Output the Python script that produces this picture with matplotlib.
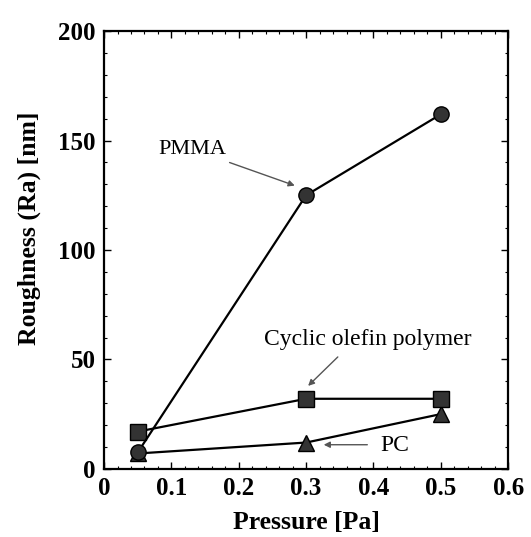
import matplotlib.pyplot as plt
from matplotlib.ticker import MultipleLocator

pressure = [0.05, 0.3, 0.5]
pmma = [7.5, 125, 162]
cop = [17, 32, 32]
pc = [7, 12, 25]

plt.rcParams['font.family'] = ['Liberation Serif', 'DejaVu Serif']

fig = plt.figure(figsize=(5.31, 5.37), dpi=100)
ax = fig.add_axes([0.196, 0.127, 0.761, 0.815])

ax.plot(pressure, pc, '-^', color='black', markersize=11, linewidth=1.6, markerfacecolor='#333333')
ax.plot(pressure, cop, '-s', color='black', markersize=11, linewidth=1.6, markerfacecolor='#333333')
ax.plot(pressure, pmma, '-o', color='black', markersize=11, linewidth=1.6, markerfacecolor='#333333')

ax.set_xlim(0, 0.6)
ax.set_ylim(0, 200)
ax.xaxis.set_major_locator(MultipleLocator(0.1))
ax.xaxis.set_minor_locator(MultipleLocator(0.02))
ax.yaxis.set_major_locator(MultipleLocator(50))
ax.yaxis.set_minor_locator(MultipleLocator(10))
ax.set_xticks([0, 0.1, 0.2, 0.3, 0.4, 0.5, 0.6])
ax.set_xticklabels(['0', '0.1', '0.2', '0.3', '0.4', '0.5', '0.6'])
ax.tick_params(which='both', direction='in', top=True, right=True)
ax.tick_params(which='major', length=5, width=1, labelsize=18, pad=6)
ax.tick_params(which='minor', length=2.5, width=0.8)
for lab in ax.get_xticklabels() + ax.get_yticklabels():
    lab.set_fontweight('bold')
for s in ax.spines.values():
    s.set_linewidth(1.6)

ax.set_xlabel('Pressure [Pa]', fontsize=18.5, fontweight='bold', labelpad=8)
ax.set_ylabel('Roughness (Ra) [nm]', fontsize=18.5, fontweight='bold')
ax.yaxis.set_label_coords(-0.155, 0.55)

arrow = dict(arrowstyle='-|>', color='#555555', lw=1, mutation_scale=9)
ax.annotate('PMMA', xy=(0.287, 129), xytext=(0.131, 146), fontsize=16,
            ha='center', va='center', arrowprops=arrow)
ax.annotate('', xy=(0.30, 37), xytext=(0.35, 52), arrowprops=arrow)
ax.text(0.392, 59, 'Cyclic olefin polymer', fontsize=17, ha='center', va='center')
ax.annotate('', xy=(0.322, 11), xytext=(0.395, 11), arrowprops=arrow)
ax.text(0.432, 10.5, 'PC', fontsize=17, ha='center', va='center')

fig.savefig('out.png', dpi=100)
